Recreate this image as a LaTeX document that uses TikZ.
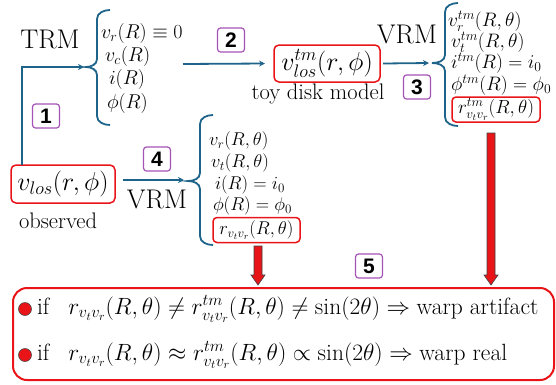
\RequirePackage{fix-cm}
\documentclass[tikz,border=0pt]{standalone}
\usepackage{amsmath}
\usepackage{fontspec}
\newfontfamily\numfont{Liberation Sans}
\usetikzlibrary{arrows.meta}
\definecolor{teal1}{RGB}{30,100,138}
\definecolor{red1}{RGB}{232,20,24}
\definecolor{purp1}{RGB}{165,82,182}
\begin{document}
\begin{tikzpicture}[x=1pt,y=-1pt,
  every node/.style={inner sep=0pt,outer sep=0pt},
  tealarrow/.style={draw=teal1,line width=1.8pt,-{Stealth[length=6pt,width=6pt]}},
  bracestyle/.style={draw=teal1,line width=1.8pt},
  numbox/.style={draw=purp1,line width=1.2pt,rounded corners=3pt,minimum width=27pt,minimum height=24pt,font=\numfont\bfseries\fontsize{21}{21}\selectfont},
  redbox/.style={draw=red1,line width=1.5pt,rounded corners=5pt},
  listtxt/.style={anchor=west,font=\fontsize{20}{24}\selectfont},
  listtxtc/.style={anchor=west,font=\fontsize{19.5}{23}\selectfont},
  listtxtb/.style={anchor=west,font=\fontsize{18.5}{22}\selectfont},
  bigmath/.style={font=\fontsize{26}{30}\selectfont},
  lbl/.style={anchor=base,font=\fontsize{27}{32}\selectfont},
  caption/.style={anchor=base,font=\fontsize{22.5}{27}\selectfont},
  restxt/.style={anchor=west,font=\fontsize{23.5}{28}\selectfont},
  redarrow/.style={fill=red1,draw=black!75,line width=0.6pt},
  bullet/.style={circle,fill=red1,draw=black!70,line width=0.6pt,minimum size=13pt}
]
\useasboundingbox (0,0) rectangle (556,384);

% observed
\node[redbox,bigmath,minimum width=104pt,minimum height=38pt] (obs) at (63,184) {$v_{los}(r,\phi)$};
\node[caption] (obslbl) at (58,228) {observed};

% TRM branch
\node[lbl] (trm) at (50,48) {TRM};
\node[numbox] (n1) at (46,116) {1};
\coordinate (c1) at (22,0);
\coordinate (br1) at (84,67);
\draw[tealarrow] (obs.north -| c1) |- (br1);
\draw[bracestyle] (110,10) to[out=180,in=90] (97,19) -- (97,59) to[out=-90,in=0] (86,67) to[out=0,in=90] (97,75) -- (97,116) to[out=-90,in=180] (110,125);
\node[listtxt] (l1a) at (101,33) {$v_r(R)\equiv 0$};
\node[listtxt] (l1b) at (105,56) {$v_c(R)$};
\node[listtxt] (l1c) at (109,79) {$i(R)$};
\node[listtxt] (l1d) at (107,103) {$\phi(R)$};

% toy disk model
\node[numbox] (n2) at (231,40) {2};
\node[redbox,bigmath,minimum width=106pt,minimum height=37pt] (tm) at (327,63.5) {$v^{tm}_{los}(r,\phi)$};
\node[caption] (toy) at (318,99) {toy disk model};
\coordinate (a2s) at (183,64);
\draw[tealarrow] (a2s) -- ([xshift=-9pt]tm.west);

% VRM on toy model
\node[lbl] (vrm1) at (407,43) {VRM};
\node[numbox] (n3) at (417,87) {3};
\coordinate (br3) at (429,63);
\draw[tealarrow] ([xshift=3pt]tm.east) -- (br3);
\draw[bracestyle] (458,3) to[out=180,in=90] (445,12) -- (445,55) to[out=-90,in=0] (432,63) to[out=0,in=90] (445,71) -- (445,117) to[out=-90,in=180] (458,126);
\node[listtxtc] (l3a) at (448,21) {$v^{tm}_r(R,\theta)$};
\node[listtxtc] (l3b) at (451,42) {$v^{tm}_t(R,\theta)$};
\node[listtxtc] (l3c) at (451,63.5) {$i^{tm}(R)=i_0$};
\node[listtxtc] (l3d) at (451,85) {$\phi^{tm}(R)=\phi_0$};
\node[redbox,rounded corners=4pt,minimum width=88pt,minimum height=25pt,font=\fontsize{19}{22}\selectfont] (l3e) at (496,109.5) {$r^{tm}_{v_tv_r}(R,\theta)$};

% VRM on observed
\node[numbox] (n4) at (157,159) {4};
\node[lbl] (vrm2) at (157,208) {VRM};
\coordinate (a4s) at (123,180);
\coordinate (br2) at (184,180);
\draw[tealarrow] (a4s) -- (br2);
\draw[bracestyle] (213,115) to[out=180,in=90] (200,124) -- (200,173) to[out=-90,in=0] (188,181) to[out=0,in=90] (200,189) -- (200,236) to[out=-90,in=180] (213,245);
\node[listtxtb] (l2a) at (209,141) {$v_r(R,\theta)$};
\node[listtxtb] (l2b) at (211,163) {$v_t(R,\theta)$};
\node[listtxtb] (l2c) at (215,185) {$i(R)=i_0$};
\node[listtxtb] (l2d) at (213,206) {$\phi(R)=\phi_0$};
\node[redbox,rounded corners=4pt,minimum width=87pt,minimum height=25pt,font=\fontsize{18.5}{22}\selectfont] (l2e) at (256.5,230) {$r_{v_tv_r}(R,\theta)$};

% red arrows
\coordinate (ra1) at (258,246);
\coordinate (ra2) at (491,133);
\draw[redarrow] (ra1) ++(-4,0) -- ++(8,0) -- ++(0,29) -- ++(3,0) -- ++(-7,10) -- ++(-7,-10) -- ++(3,0) -- cycle;
\draw[redarrow] (ra2) ++(-4,0) -- ++(8,0) -- ++(0,142) -- ++(3,0) -- ++(-7,10) -- ++(-7,-10) -- ++(3,0) -- cycle;

% results
\node[numbox] (n5) at (369,266) {5};
\node[draw=red1,line width=2pt,rounded corners=14pt,minimum width=541pt,minimum height=92pt] (res) at (283.5,334) {};
\node[bullet] (b1) at (25,309) {};
\node[bullet] (b2) at (25,355) {};
\node[restxt] (r1) at (37,309) {if\hspace{19pt}$r_{v_tv_r}(R,\theta)\neq r^{tm}_{v_tv_r}(R,\theta)\neq\sin(2\theta)\Rightarrow\text{warp artifact}$};
\node[restxt] (r2) at (37,355) {if\hspace{19pt}$r_{v_tv_r}(R,\theta)\approx r^{tm}_{v_tv_r}(R,\theta)\propto\sin(2\theta)\Rightarrow\text{warp real}$};
\end{tikzpicture}
\end{document}
